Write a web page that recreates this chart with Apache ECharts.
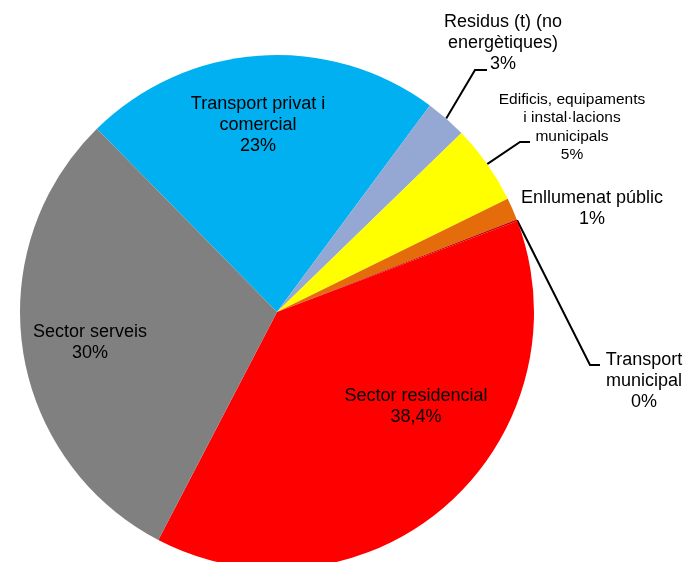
<!DOCTYPE html>
<html>
<head>
<meta charset="utf-8">
<script src="https://cdn.jsdelivr.net/npm/echarts@6/dist/echarts.min.js"></script>
<style>
html,body{margin:0;padding:0;background:#fff;}
#chart{width:688px;height:562px;}
</style>
</head>
<body>
<div id="chart"></div>
<script>
// ---- data ----
const categories = [
  'Transport privat i\ncomercial',
  'Residus (t) (no\nenergètiques)',
  'Edificis, equipaments\ni instal·lacions\nmunicipals',
  'Enllumenat públic',
  'Transport\nmunicipal',
  'Sector residencial',
  'Sector serveis'
];
const values = [22.5, 2.6, 5.0, 1.4, 0.1, 38.4, 30.0];
const pctLabels = ['23%', '3%', '5%', '1%', '0%', '38,4%', '30%'];

// ---- styling / layout (kept separate from data) ----
const colors = ['#00B0F0', '#95A8D4', '#FFFF00', '#E46C0A', '#C00000', '#FF0000', '#808080'];
const insideIdx = [0, 5, 6];
const labelCentre = {
  0: [258, 125], 1: [503, 43], 2: [572, 127], 3: [592, 209],
  4: [644, 381], 5: [416, 407], 6: [90, 343]
};
const guideBend = {
  1: [[475, 70], [487, 70]],
  2: [[520, 142], [530, 142]],
  4: [[590, 365], [600, 365]]
};

const chart = echarts.init(document.getElementById('chart'), null, {renderer: 'canvas'});

const pieData = categories.map((name, i) => {
  const item = {
    name: name,
    value: values[i],
    itemStyle: {color: colors[i]},
    label: {},
    labelLine: {show: guideBend[i] !== undefined}
  };
  if (insideIdx.indexOf(i) >= 0) {
    item.label.position = 'inside';
    item.labelLine.show = false;
  }
  if (i === 2) {
    item.label.fontSize = 15.5;
    item.label.lineHeight = 18.5;
  }
  return item;
});

chart.setOption({
  animation: false,
  backgroundColor: '#ffffff',
  series: [{
    type: 'pie',
    center: [277, 312],
    radius: 257,
    startAngle: 134.5,
    clockwise: true,
    avoidLabelOverlap: false,
    itemStyle: {borderWidth: 0},
    label: {
      show: true,
      position: 'outside',
      color: '#000',
      fontFamily: 'Liberation Sans, Arial, sans-serif',
      fontSize: 18,
      lineHeight: 21,
      formatter: p => p.name + '\n' + pctLabels[p.dataIndex]
    },
    labelLine: {
      lineStyle: {color: '#000', width: 2},
      length: 20,
      length2: 10
    },
    labelLayout: function (params) {
      const i = params.dataIndex;
      const c = labelCentre[i];
      const out = {x: c[0], y: c[1], align: 'center', verticalAlign: 'middle'};
      if (guideBend[i] && params.labelLinePoints) {
        out.labelLinePoints = [params.labelLinePoints[0]].concat(guideBend[i]);
      }
      return out;
    },
    data: pieData
  }]
});
</script>
</body>
</html>
